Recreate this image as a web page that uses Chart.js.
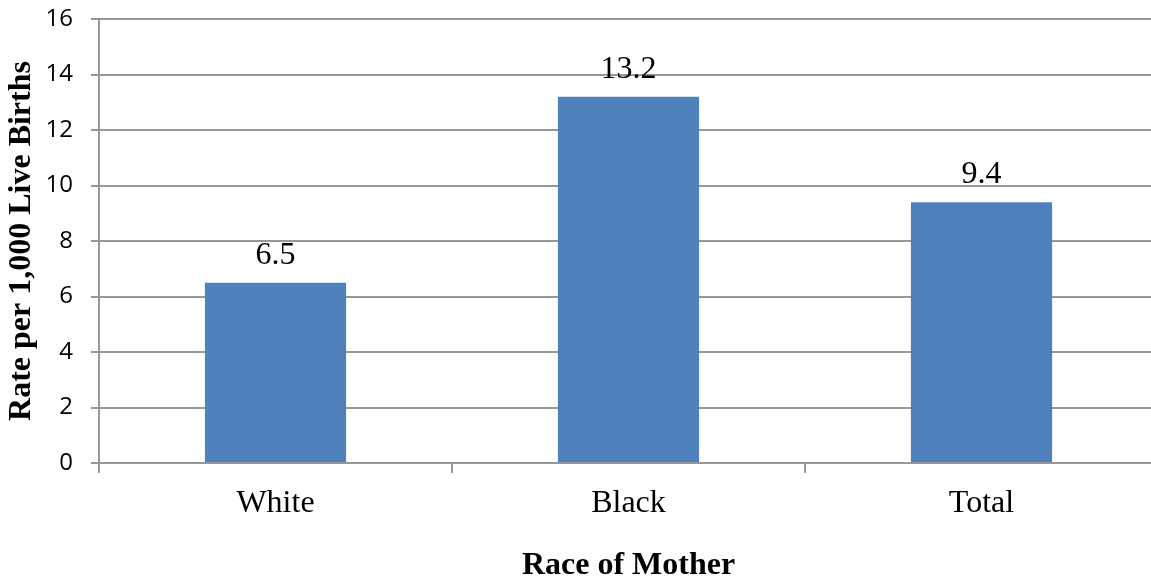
<!DOCTYPE html>
<html>
<head>
<meta charset="utf-8">
<script src="https://cdn.jsdelivr.net/npm/chart.js@4/dist/chart.umd.min.js"></script>
<style>
  html, body { margin: 0; padding: 0; background: #fff; overflow: hidden; }
  #wrap { width: 1160px; height: 577px; position: relative; }
</style>
</head>
<body>
<div id="wrap"><canvas id="rateChart"></canvas></div>
<script>
// Rates by race of mother
const categories = ['White', 'Black', 'Total'];
const rates = [6.5, 13.2, 9.4];
const yTicks = [0, 2, 4, 6, 8, 10, 12, 14, 16];

const BAR_BLUE = '#4F81BD';
const LINE_GRAY = '#979797';
const SERIF = '"Liberation Serif", "Times New Roman", serif';
const SANS = '"Open Sans", "Liberation Sans", sans-serif';

// Value text sitting above each bar
const barValues = {
    id: 'barValues',
    afterDatasetsDraw(chart) {
        const ctx = chart.ctx;
        const meta = chart.getDatasetMeta(0);
        ctx.save();
        ctx.font = '32px ' + SERIF;
        ctx.fillStyle = '#000';
        ctx.textAlign = 'center';
        ctx.textBaseline = 'alphabetic';
        meta.data.forEach((bar, i) => {
            ctx.fillText(rates[i].toFixed(1), bar.x, bar.y - 19);
        });
        ctx.restore();
    }
};

new Chart(document.getElementById('rateChart'), {
    type: 'bar',
    data: {
        labels: categories,
        datasets: [{
            data: rates,
            backgroundColor: BAR_BLUE,
            borderWidth: 0,
            barPercentage: 0.4,
            categoryPercentage: 1
        }]
    },
    options: {
        responsive: true,
        maintainAspectRatio: false,
        animation: false,
        layout: { padding: { top: 19, right: 2, left: 0, bottom: 0 } },
        plugins: {
            legend: { display: false },
            tooltip: { enabled: false }
        },
        scales: {
            x: {
                afterFit: s => { s.height = 114; },
                grid: {
                    display: true,
                    offset: true,
                    drawOnChartArea: false,
                    drawTicks: true,
                    tickLength: 10,
                    color: LINE_GRAY,
                    lineWidth: 2
                },
                border: { display: true, color: LINE_GRAY, width: 2 },
                ticks: {
                    color: '#000',
                    font: { family: SERIF, size: 32 },
                    padding: 11
                },
                title: {
                    display: true,
                    text: 'Race of Mother',
                    color: '#000',
                    font: { family: SERIF, size: 32, weight: 'bold' },
                    padding: { top: 0, bottom: -8 }
                }
            },
            y: {
                min: 0,
                max: 16,
                afterFit: s => {
                    s.width = 99;
                    s.paddingTop = 0;
                    s.paddingBottom = 0;
                },
                afterBuildTicks: s => { s.ticks = yTicks.map(v => ({ value: v })); },
                grid: {
                    color: LINE_GRAY,
                    lineWidth: 2,
                    drawTicks: true,
                    tickLength: 8
                },
                border: { display: true, color: LINE_GRAY, width: 2 },
                ticks: {
                    color: '#000',
                    font: { family: SANS, size: 24 },
                    padding: 18
                },
                title: {
                    display: true,
                    text: 'Rate per 1,000 Live Births',
                    color: '#000',
                    font: { family: SERIF, size: 32, weight: 'bold' },
                    padding: { top: 3, bottom: 4 }
                }
            }
        }
    },
    plugins: [barValues]
});
</script>
</body>
</html>
